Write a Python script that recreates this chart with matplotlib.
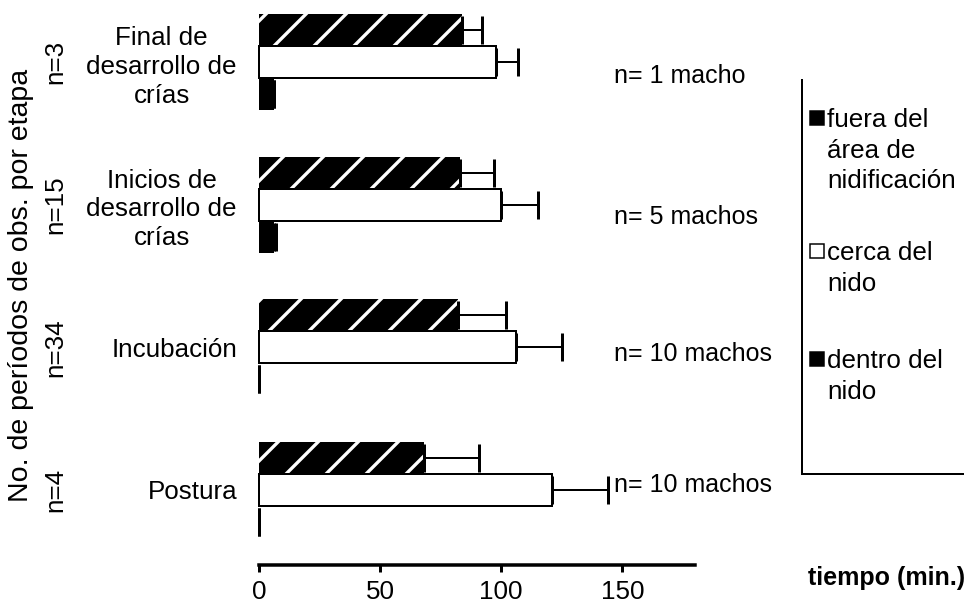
import numpy as np
import matplotlib.pyplot as plt
import matplotlib.transforms as mtransforms
from matplotlib.patches import Rectangle
from matplotlib.lines import Line2D

plt.rcParams['font.family'] = ['Liberation Sans', 'DejaVu Sans']
plt.rcParams['hatch.linewidth'] = 1.0

# --- datos por etapa (de arriba hacia abajo) ---
etapas = ["Final de\ndesarrollo de\ncrías", "Inicios de\ndesarrollo de\ncrías",
          "Incubación", "Postura"]
n_periodos = ["n=3", "n=15", "n=34", "n=4"]
n_machos = ["n= 1 macho", "n= 5 machos", "n= 10 machos", "n= 10 machos"]

# tiempo medio (min) y error
fuera = [84, 83, 82, 68]
fuera_err = [8, 14, 20, 23]
cerca = [98, 100, 106, 121]
cerca_err = [9, 15, 19, 23]
dentro = [6, 6, 0, 0]
dentro_err = [0, 1, 0, 0]

series = ["fuera del\nárea de\nnidificación", "cerca del\nnido", "dentro del\nnido"]
xticks = [0, 50, 100, 150]

# --- figura: dpi alto para que el rayado quede ancho ---
W, H, DPI = 964, 611, 240


def pt(px):
    return px * 72 / DPI


def fx(x):
    return x / W


def fy(y):
    return 1 - y / H


fs = pt(25)
fig = plt.figure(figsize=(W / DPI, H / DPI), dpi=DPI)
ax = fig.add_axes([fx(259), fy(565), fx(695 - 259), (565 - 9) / H])

pos = np.arange(len(etapas))[::-1].astype(float)
h = 0.224

ax.barh(pos + h, fuera, height=h, color='black', edgecolor='white',
        linewidth=0, hatch='//', clip_on=False)
ax.barh(pos, cerca, height=h, facecolor='white', edgecolor='black',
        linewidth=pt(2), clip_on=False)
ax.barh(pos - h, dentro, height=h, color='black', linewidth=0, clip_on=False)

zeros = np.zeros(len(etapas))
for vals, errs, yy in [(fuera, fuera_err, pos + h),
                       (cerca, cerca_err, pos),
                       (dentro, dentro_err, pos - h)]:
    ax.errorbar(vals, yy, xerr=[zeros, errs], fmt='none', ecolor='black',
                elinewidth=pt(2), capsize=pt(14), capthick=pt(3), clip_on=False)

ax.set_xlim(0, 180)
ax.set_ylim(-0.526, 3.371)

for s in ['left', 'top', 'right']:
    ax.spines[s].set_visible(False)
ax.spines['bottom'].set_linewidth(pt(3.5))

ax.set_xticks(xticks)
ax.set_xticklabels([str(t) for t in xticks], fontsize=pt(26))
ax.tick_params(axis='x', direction='out', length=pt(7), width=pt(3), pad=pt(8))

ax.set_yticks(pos, labels=etapas, fontsize=pt(26), multialignment='center',
              linespacing=1.25)
ax.tick_params(axis='y', length=0, pad=pt(22))

# n de periodos (izquierda) y n de machos (derecha)
trans = mtransforms.blended_transform_factory(fig.transFigure, ax.transData)
machos_dy = [0.10, 0.09, 0.05, -0.035]
for p, lab_p, lab_m, dy in zip(pos, n_periodos, n_machos, machos_dy):
    ax.text(fx(55), p, lab_p, transform=trans, rotation=90,
            ha='center', va='center', fontsize=pt(26))
    ax.text(fx(614), p - dy, lab_m, transform=trans,
            ha='left', va='center', fontsize=fs)

fig.text(fx(21), fy(285), "No. de períodos de obs. por etapa", rotation=90,
         ha='center', va='center', fontsize=pt(28.5))
fig.text(fx(808), fy(578), "tiempo (min.)", ha='left', va='center',
         fontsize=fs, fontweight='bold')

# leyenda
fig.add_artist(Line2D([fx(802), fx(802)], [fy(80), fy(474)], color='black',
                      linewidth=pt(2), transform=fig.transFigure))
fig.add_artist(Line2D([fx(802), fx(W)], [fy(474), fy(474)], color='black',
                      linewidth=pt(2), transform=fig.transFigure))
swatch = ['black', 'white', 'black']
tops = [108, 241, 349]
for lab, col, top in zip(series, swatch, tops):
    fig.add_artist(Rectangle((fx(810), fy(top + 17)), 14 / W, 14 / H,
                             facecolor=col, edgecolor='black',
                             linewidth=pt(1.5), transform=fig.transFigure))
    fig.text(fx(827), fy(top), lab, ha='left', va='top', fontsize=pt(26),
             linespacing=1.35)

fig.savefig('out.png', dpi=DPI)
